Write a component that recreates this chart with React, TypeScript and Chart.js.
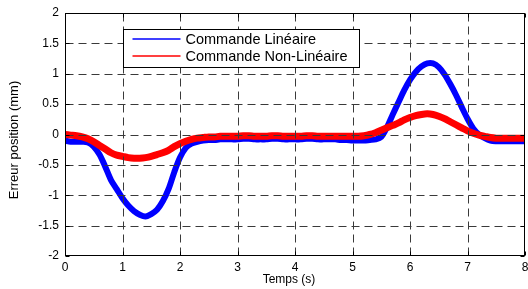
import React, { useEffect, useRef } from "react";
import { Chart, registerables } from "chart.js";

Chart.register(...registerables);

const timeS = [
  0.0, 0.1, 0.2, 0.3, 0.4, 0.5, 0.6, 0.7, 0.8, 0.9,
  1.0, 1.1, 1.2, 1.3, 1.4, 1.5, 1.6, 1.7, 1.8, 1.9,
  2.0, 2.1, 2.2, 2.3, 2.4, 2.5, 2.6, 2.7, 2.8, 2.9,
  3.0, 3.1, 3.2, 3.3, 3.4, 3.5, 3.6, 3.7, 3.8, 3.9,
  4.0, 4.1, 4.2, 4.3, 4.4, 4.5, 4.6, 4.7, 4.8, 4.9,
  5.0, 5.1, 5.2, 5.3, 5.4, 5.5, 5.6, 5.7, 5.8, 5.9,
  6.0, 6.1, 6.2, 6.3, 6.4, 6.5, 6.6, 6.7, 6.8, 6.9,
  7.0, 7.1, 7.2, 7.3, 7.4, 7.5, 7.6, 7.7, 7.8, 7.9,
  8.0,
];

const erreurLineaire = [
  -0.10, -0.12, -0.12, -0.12, -0.13, -0.20, -0.33, -0.53, -0.75, -0.90,
  -1.05, -1.17, -1.26, -1.32, -1.35, -1.31, -1.24, -1.10, -0.90, -0.62,
  -0.38, -0.22, -0.15, -0.12, -0.10, -0.09, -0.09, -0.08, -0.08, -0.08,
  -0.08, -0.07, -0.07, -0.08, -0.08, -0.08, -0.07, -0.07, -0.08, -0.08,
  -0.08, -0.08, -0.07, -0.07, -0.08, -0.08, -0.08, -0.08, -0.09, -0.09,
  -0.10, -0.10, -0.10, -0.09, -0.08, -0.04, 0.12, 0.33, 0.53, 0.73,
  0.90, 1.03, 1.12, 1.17, 1.17, 1.11, 0.99, 0.83, 0.65, 0.45,
  0.26, 0.10, 0.00, -0.06, -0.10, -0.11, -0.11, -0.11, -0.11, -0.11,
  -0.11,
];

const erreurNonLineaire = [
  0.00, -0.01, -0.02, -0.04, -0.07, -0.12, -0.18, -0.24, -0.30, -0.34,
  -0.36, -0.38, -0.39, -0.39, -0.38, -0.36, -0.33, -0.30, -0.26, -0.20,
  -0.15, -0.11, -0.08, -0.06, -0.05, -0.04, -0.04, -0.03, -0.03, -0.03,
  -0.03, -0.02, -0.02, -0.03, -0.03, -0.03, -0.02, -0.02, -0.03, -0.03,
  -0.03, -0.03, -0.02, -0.02, -0.03, -0.03, -0.03, -0.03, -0.03, -0.03,
  -0.03, -0.03, -0.02, 0.00, 0.03, 0.07, 0.11, 0.15, 0.19, 0.24,
  0.28, 0.31, 0.33, 0.34, 0.33, 0.30, 0.26, 0.21, 0.16, 0.11,
  0.06, 0.02, -0.01, -0.03, -0.05, -0.06, -0.06, -0.06, -0.06, -0.06,
  -0.06,
];

const seriesLabels = ["Commande Linéaire", "Commande Non-Linéaire"];
const seriesColors = ["#0000ff", "#ff0000"];
const xTitle = "Temps (s)";
const yTitle = "Erreur position (mm)";

const FONT = "'Liberation Sans', Arial, Helvetica, sans-serif";

const framePlugin = {
  id: "matlabFrame",
  afterDatasetsDraw(chart: any) {
    const { ctx, chartArea } = chart;
    const { left, right, top, bottom } = chartArea;
    const xs = chart.scales.x;
    const ys = chart.scales.y;
    const L = Math.round(left) + 0.5;
    const R = Math.round(right) - 0.5;
    const T = Math.round(top) + 0.5;
    const B = Math.round(bottom) - 0.5;
    ctx.save();
    ctx.strokeStyle = "#3a3a3a";
    ctx.lineWidth = 1;
    ctx.setLineDash([8, 5]);
    xs.ticks.forEach((t: any) => {
      const px = Math.round(xs.getPixelForValue(t.value)) + 0.5;
      if (px <= L + 1 || px >= R - 1) return;
      ctx.beginPath();
      ctx.moveTo(px, B);
      ctx.lineTo(px, T);
      ctx.stroke();
    });
    ys.ticks.forEach((t: any) => {
      const py = Math.round(ys.getPixelForValue(t.value)) + 0.5;
      if (py <= T + 1 || py >= B - 1) return;
      ctx.beginPath();
      ctx.moveTo(L, py);
      ctx.lineTo(R, py);
      ctx.stroke();
    });
    ctx.setLineDash([]);
    ctx.strokeStyle = "#000";
    const tl = 4;
    xs.ticks.forEach((t: any) => {
      const px = Math.round(xs.getPixelForValue(t.value)) + 0.5;
      ctx.beginPath();
      ctx.moveTo(px, B);
      ctx.lineTo(px, B - tl);
      ctx.moveTo(px, T);
      ctx.lineTo(px, T + tl);
      ctx.stroke();
    });
    ys.ticks.forEach((t: any) => {
      const py = Math.round(ys.getPixelForValue(t.value)) + 0.5;
      ctx.beginPath();
      ctx.moveTo(L, py);
      ctx.lineTo(L + tl, py);
      ctx.moveTo(R, py);
      ctx.lineTo(R - tl, py);
      ctx.stroke();
    });
    ctx.strokeRect(L, T, R - L, B - T);
    ctx.restore();
  },
  afterDraw(chart: any) {
    const { ctx, chartArea } = chart;
    const { left, top } = chartArea;
    ctx.save();
    const bx = Math.round(left) + 58.5;
    const by = Math.round(top) + 16.5;
    const bw = 236;
    const bh = 38;
    ctx.fillStyle = "#fff";
    ctx.fillRect(bx, by, bw, bh);
    ctx.strokeStyle = "#000";
    ctx.lineWidth = 1;
    ctx.strokeRect(bx, by, bw, bh);
    seriesLabels.forEach((lab, i) => {
      const ly = by + 9.5 + i * 17;
      ctx.save();
      ctx.strokeStyle = seriesColors[i];
      ctx.lineWidth = 1.5;
      ctx.beginPath();
      ctx.moveTo(bx + 9, ly);
      ctx.lineTo(bx + 57, ly);
      ctx.stroke();
      ctx.restore();
      ctx.fillStyle = "#000";
      ctx.font = `14.5px ${FONT}`;
      ctx.textAlign = "left";
      ctx.textBaseline = "middle";
      ctx.fillText(lab, bx + 62, ly + 0.5);
    });
    ctx.fillStyle = "#000";
    ctx.font = `12px ${FONT}`;
    ctx.textAlign = "center";
    ctx.textBaseline = "middle";
    ctx.fillText(xTitle, 289, 280);
    ctx.save();
    ctx.translate(14, 140);
    ctx.rotate(-Math.PI / 2);
    ctx.font = `13px ${FONT}`;
    ctx.fillText(yTitle, 0, 0);
    ctx.restore();
    ctx.restore();
  },
};

export default function App() {
  const canvasRef = useRef<HTMLCanvasElement | null>(null);

  useEffect(() => {
    if (!canvasRef.current) return;
    const chart = new Chart(canvasRef.current, {
      type: "line",
      data: {
        datasets: [
          {
            label: seriesLabels[0],
            data: timeS.map((t, i) => ({ x: t, y: erreurLineaire[i] })),
            borderColor: seriesColors[0],
            borderWidth: 6,
            pointRadius: 0,
            tension: 0.3,
            order: 1,
          },
          {
            label: seriesLabels[1],
            data: timeS.map((t, i) => ({ x: t, y: erreurNonLineaire[i] })),
            borderColor: seriesColors[1],
            borderWidth: 7,
            pointRadius: 0,
            tension: 0.3,
            order: 0,
          },
        ],
      },
      options: {
        animation: false,
        responsive: false,
        devicePixelRatio: 1,
        layout: { padding: { top: 13, right: 3, left: 0, bottom: 0 } },
        plugins: {
          legend: { display: false },
          tooltip: { enabled: false },
        },
        scales: {
          x: {
            type: "linear",
            min: 0,
            max: 8,
            grid: { display: false, drawTicks: false },
            border: { display: false },
            ticks: {
              stepSize: 1,
              padding: 4,
              color: "#000",
              font: { family: FONT, size: 12 },
              maxRotation: 0,
              callback: (v: any) => String(v),
            },
            afterFit: (s: any) => {
              s.height = 33;
              s.paddingLeft = 0;
              s.paddingRight = 0;
            },
          },
          y: {
            type: "linear",
            min: -2,
            max: 2,
            grid: { display: false, drawTicks: false },
            border: { display: false },
            ticks: {
              stepSize: 0.5,
              padding: 6,
              color: "#000",
              font: { family: FONT, size: 12 },
              callback: (v: any) => String(v),
            },
            afterFit: (s: any) => {
              s.width = 65;
              s.paddingTop = 0;
              s.paddingBottom = 0;
            },
          },
        },
      },
      plugins: [framePlugin],
    });
    return () => chart.destroy();
  }, []);

  return (
    <div style={{ position: "absolute", left: 0, top: 0, width: 528, height: 289, background: "#fff" }}>
      <canvas ref={canvasRef} width={528} height={289} />
    </div>
  );
}
